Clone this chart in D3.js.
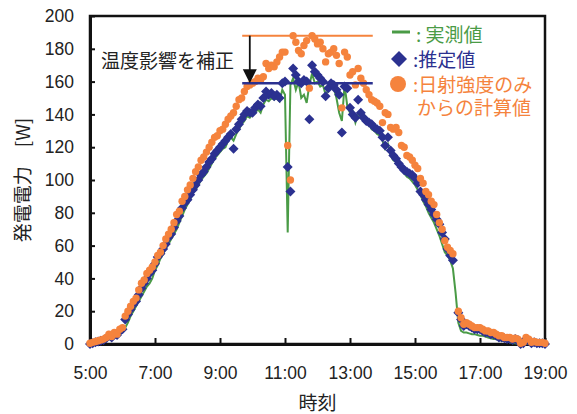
<!DOCTYPE html>
<html>
<head>
<meta charset="utf-8">
<script src="https://cdn.jsdelivr.net/npm/d3@7"></script>
<style>
  body { margin: 0; background: #fff; }
  svg { display: block; }
</style>
</head>
<body>
<div id="chart"></div>
<script>
// 5分ごとのデータ 5:00 - 19:00
var measured = [
  0, 0, 0.5, 1, 1.5, 2, 2.5, 3.5, 4, 5, 5.5, 7,
  8, 10, 13, 17, 20, 23, 26, 29, 32, 35, 37, 40,
  45, 48, 52, 55, 58, 61, 64, 67, 70, 74, 78, 82,
  85, 88, 92, 94, 97, 100, 102, 104, 107, 110, 113, 115,
  117, 119, 120, 124, 126, 124, 128, 131, 134, 136, 139, 138,
  140, 141, 143, 141, 146, 149, 148, 150, 149, 150, 148, 155,
  152, 68, 158, 162, 155, 160, 150, 152, 147, 158, 165, 159,
  160, 157, 158, 152, 155, 157, 156, 150, 141, 136, 158, 145,
  141, 142, 135, 140, 138, 136, 138, 134, 131, 130, 128, 127,
  124, 119, 122, 115, 112, 111, 108, 106, 104, 102, 101, 99,
  97, 94, 91, 87, 84, 80, 77, 74, 70, 66, 61, 56,
  54, 51, 46, 31, 13, 8, 7, 7, 6.5, 6, 6, 5.5,
  5, 5, 4.5, 4, 3.5, 3, 3, 2.5, 2, 2, 1.5, 1,
  0.5, 0.5, 0, 0, 0, 0, 0, 0, 0, 0, 0, 0,
  0
];
var estimated = [
  0, 0.5, 1, 1.5, 2, 2.5, 3.5, 5, 4, 6, 5.5, 8,
  9, 15, 18, 21, 24, 26, 30, 34, 37, 40, 43, 45,
  49, 53, 55, 58, 61, 65, 67, 71, 75, 78, 83, 86,
  88, 91, 94, 97, 100, 103, 105, 108, 111, 113, 116, 118,
  120, 122, 124, 126, 128, 119, 131, 134, 137, 140, 142, 141,
  141, 144, 146, 145, 150, 154, 152, 153, 151, 152, 150, 159,
  160, 108, 93, 168, 164, 160, 159, 161, 160, 137, 170, 166,
  164, 162, 160, 151, 156, 159, 158, 155, 152, 129, 157, 156,
  144, 140, 138, 149, 141, 138, 136, 135, 134, 132, 131, 130,
  126, 121, 126, 118, 115, 113, 110, 108, 106, 105, 104, 103,
  101, 98, 93, 91, 88, 85, 82, 79, 76, 73, 68, 64,
  58, 54, 51, null, 19, 15, 11, 12, 11, 10, 9, 9,
  9, 8, 7, 7, 6, 6, 5, 4, 4, 3.5, 3, 3,
  2.5, 3, 2.5, 0, 0.5, 3, 2, 0.5, 1, 0.5, 0.5, 0.5,
  0
];
var irradiance = [
  0.5, 1, 1.5, 2, 2.5, 3, 4, 6, 4.5, 7, 6, 9,
  10, 17, 20, 23, 26, 28, 33, 37, 39, 43, 45, 47,
  50, 54, 56, 60, 64, 67, 70, 74, 79, 81, 87, 90,
  94, 97, 101, 105, 108, 112, 114, 117, 120, 123, 126, 127,
  130, 131, 134, 137, 139, 141, 145, 149, 150, 154, 157, 158,
  159, 160, 162, 161, 163, 171, 168, 170, 169, 172, 175, 178,
  178, 121, 100, 188, 184, 179, 177, 182, 185, 156, 188, 186,
  183, 184, 180, 172, 177, 178, 180, 176, 171, 144, 178, 175,
  164, 166, 158, 168, 162, 159, 155, 152, 149, 148, 147, 145,
  135, 141, 140, 132, 131, 132, 129, 121, 120, 115, 114, 112,
  109, 107, 101, 98, 93, 91, 87, 85, 79, 74, 70, 63,
  59, 57, 55, null, 20, 16, 12, 13, 12, 11, 10, 10,
  10, 9, 8, 8, 7, 7, 6, 5, 5, 4, 4, 4,
  3, 3.5, 3, 0.5, 1, 4, 3, 1, 1.5, 1, 1, 1,
  0.5
];
var xTicks = [5, 7, 9, 11, 13, 15, 17, 19];
var yTicks = [0, 20, 40, 60, 80, 100, 120, 140, 160, 180, 200];
// 温度補正の注記
var refStart = 9 + 41 / 60, refEnd = 13 + 42 / 60;
var refIrr = 188, refEst = 159, arrowAt = 9 + 55 / 60;

var times = measured.map(function (d, i) { return 5 + i / 12; });

var W = 577, H = 414;
var plotL = 90, plotR = 545, plotT = 16, plotB = 344;
var green = "#4a9b46", navy = "#2b3190", orange = "#f5833d";
var jp = "'Noto Sans CJK JP', sans-serif";
var num = "'Liberation Sans', Arial, sans-serif";

var svg = d3.select("#chart").append("svg").attr("width", W).attr("height", H);

var x = d3.scaleLinear().domain([5, 19]).range([plotL, plotR]);
var y = d3.scaleLinear().domain([0, 200]).range([plotB, plotT]);

// 枠
svg.append("rect")
  .attr("x", plotL).attr("y", plotT)
  .attr("width", plotR - plotL).attr("height", plotB - plotT)
  .attr("fill", "none").attr("stroke", "#111").attr("stroke-width", 2.5);

var xAxis = svg.append("g")
  .attr("transform", "translate(0," + plotB + ")")
  .call(d3.axisBottom(x).tickValues(xTicks).tickSizeInner(-6).tickSizeOuter(0).tickPadding(23)
    .tickFormat(function (d) { return d + ":00"; }));
var yAxis = svg.append("g")
  .attr("transform", "translate(" + plotL + ",0)")
  .call(d3.axisLeft(y).tickValues(yTicks).tickSizeInner(-5).tickSizeOuter(0).tickPadding(16));

[xAxis, yAxis].forEach(function (g) {
  g.select(".domain").attr("stroke", "#111").attr("stroke-width", 3);
  g.selectAll(".tick line").attr("stroke", "#111").attr("stroke-width", 2);
  g.selectAll(".tick text").attr("font-family", num).attr("font-size", 17.5).attr("fill", "#222");
});

// 実測値
var line = d3.line()
  .defined(function (d) { return d[1] != null; })
  .x(function (d) { return x(d[0]); })
  .y(function (d) { return y(d[1]); });
svg.append("path")
  .datum(times.map(function (t, i) { return [t, measured[i]]; }))
  .attr("d", line)
  .attr("fill", "none").attr("stroke", green).attr("stroke-width", 2);

// 推定値
var diamond = "M0,-5L5,0L0,5L-5,0Z";
svg.append("g").selectAll("path")
  .data(times.map(function (t, i) { return [t, estimated[i]]; }).filter(function (d) { return d[1] != null; }))
  .enter().append("path")
  .attr("d", diamond)
  .attr("transform", function (d) { return "translate(" + x(d[0]) + "," + y(d[1]) + ")"; })
  .attr("fill", navy);

// 日射強度のみからの計算値
svg.append("g").selectAll("circle")
  .data(times.map(function (t, i) { return [t, irradiance[i]]; }).filter(function (d) { return d[1] != null; }))
  .enter().append("circle")
  .attr("cx", function (d) { return x(d[0]); })
  .attr("cy", function (d) { return y(d[1]); })
  .attr("r", 3.7)
  .attr("fill", orange);

// 補正の注記
svg.append("line")
  .attr("x1", x(refStart)).attr("x2", x(refEnd))
  .attr("y1", y(refIrr)).attr("y2", y(refIrr))
  .attr("stroke", orange).attr("stroke-width", 2);
svg.append("line")
  .attr("x1", x(refStart)).attr("x2", x(refEnd))
  .attr("y1", y(refEst)).attr("y2", y(refEst))
  .attr("stroke", navy).attr("stroke-width", 2.5);
var ax = x(arrowAt);
svg.append("line")
  .attr("x1", ax).attr("x2", ax)
  .attr("y1", y(refIrr)).attr("y2", y(refEst) - 12)
  .attr("stroke", "#111").attr("stroke-width", 1.8);
svg.append("path")
  .attr("d", "M" + (ax - 7) + "," + (y(refEst) - 14) + "L" + (ax + 7) + "," + (y(refEst) - 14) +
    "L" + ax + "," + y(refEst) + "Z")
  .attr("fill", "#111");
svg.append("text")
  .attr("x", 101).attr("y", 68)
  .attr("font-family", jp).attr("font-size", 19).attr("fill", "#222")
  .text("温度影響を補正");

// 凡例
svg.append("line")
  .attr("x1", 392).attr("x2", 410).attr("y1", 32).attr("y2", 32)
  .attr("stroke", green).attr("stroke-width", 3);
svg.append("text").attr("x", 416).attr("y", 42)
  .attr("font-family", jp).attr("font-size", 19).attr("fill", green)
  .text(": 実測値");
svg.append("path")
  .attr("d", "M0,-8L8,0L0,8L-8,0Z")
  .attr("transform", "translate(399,59)")
  .attr("fill", navy);
svg.append("text").attr("x", 413).attr("y", 67)
  .attr("font-family", jp).attr("font-size", 19).attr("fill", navy)
  .text(":推定値");
svg.append("circle").attr("cx", 398).attr("cy", 84).attr("r", 8).attr("fill", orange);
svg.append("text").attr("x", 413).attr("y", 92)
  .attr("font-family", jp).attr("font-size", 19).attr("fill", orange)
  .text(":日射強度のみ");
svg.append("text").attr("x", 417).attr("y", 115)
  .attr("font-family", jp).attr("font-size", 19).attr("fill", orange)
  .text("からの計算値");

// 軸タイトル
svg.append("text")
  .attr("transform", "translate(30," + ((plotT + plotB) / 2) + ") rotate(-90)")
  .attr("text-anchor", "middle")
  .attr("font-family", jp).attr("font-size", 19).attr("fill", "#222")
  .text("発電電力\u3000[W]");
svg.append("text")
  .attr("x", (plotL + plotR) / 2).attr("y", 410)
  .attr("text-anchor", "middle")
  .attr("font-family", jp).attr("font-size", 19).attr("fill", "#222")
  .text("時刻");
</script>
</body>
</html>
